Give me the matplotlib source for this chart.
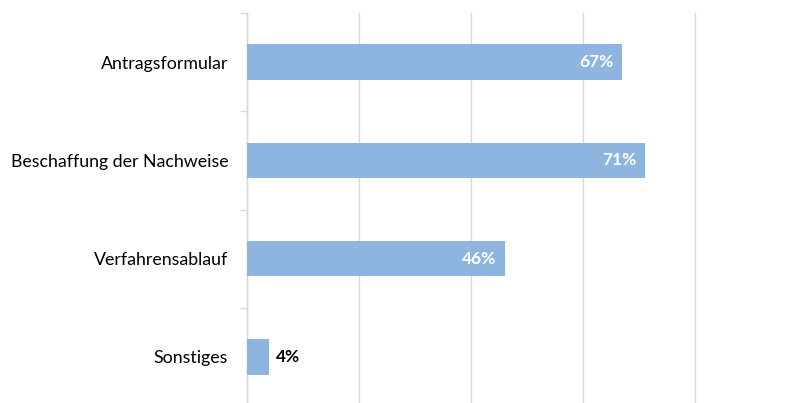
import matplotlib
matplotlib.use("Agg")
import matplotlib.pyplot as plt

categories = ["Antragsformular", "Beschaffung der Nachweise", "Verfahrensablauf", "Sonstiges"]
values = [0.67, 0.71, 0.46, 0.04]
labels = ["67%", "71%", "46%", "4%"]
inside = [True, True, True, False]

plt.rcParams['font.family'] = ['Lato', 'DejaVu Sans']

W, H = 795, 403
fig = plt.figure(figsize=(W / 100, H / 100), dpi=100)
left, right, top, bottom = 247, 695, 13, 406
ax = fig.add_axes([left / W, 1 - bottom / H, (right - left) / W, (bottom - top) / H])

bar_color = "#8DB5DF"
ypos = list(range(len(categories)))
ax.barh(ypos, values, height=0.36, color=bar_color, zorder=3)

ax.set_xlim(0, 0.8)
ax.set_ylim(len(categories) - 0.5, -0.5)
ax.set_xticks([0, 0.2, 0.4, 0.6, 0.8])
ax.set_xticklabels([])
ax.tick_params(axis='x', length=0)
ax.grid(axis='x', color="#D9D9D9", linewidth=1.0, zorder=0)
for gl in ax.get_xgridlines():
    gl.set_clip_on(False)

# category ticks between categories
ax.set_yticks([y - 0.5 for y in ypos] + [len(categories) - 0.5], minor=True)
ax.set_yticks(ypos)
ax.set_yticklabels(categories, fontsize=12.8, color="#000000")
ax.tick_params(axis='y', which='major', length=0, pad=13.5)
ax.tick_params(axis='y', which='minor', length=5, color="#D9D9D9", width=1)

for s in ["top", "right", "bottom"]:
    ax.spines[s].set_visible(False)
ax.spines["left"].set_color("#D9D9D9")
ax.spines["left"].set_linewidth(1.0)

for y, v, lab, ins in zip(ypos, values, labels, inside):
    if ins:
        ax.annotate(lab, (v, y), xytext=(-6, 0), textcoords="offset points",
                    ha="right", va="center", color="white", fontsize=12.5,
                    fontweight="bold", zorder=4)
    else:
        ax.annotate(lab, (v, y), xytext=(5, 0), textcoords="offset points",
                    ha="left", va="center", color="black", fontsize=12.5,
                    fontweight="bold", zorder=4)

fig.savefig("out.png", dpi=100)
